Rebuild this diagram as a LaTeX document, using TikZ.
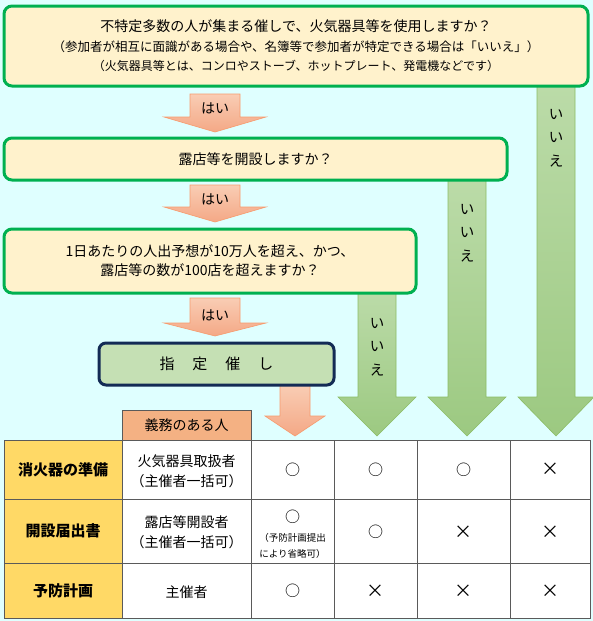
\documentclass[tikz,border=0pt]{standalone}
\usepackage{fontspec}
\setmainfont{Noto Sans CJK JP}
\usetikzlibrary{positioning}

\definecolor{bgcyan}{HTML}{DFFFFF}
\definecolor{qgreen}{HTML}{00B050}
\definecolor{qfill}{HTML}{FFF2CC}
\definecolor{navy}{HTML}{132B55}
\definecolor{evfill}{HTML}{C5E0B4}
\definecolor{yestop}{HTML}{F9CDB4}
\definecolor{yesbot}{HTML}{F4A886}
\definecolor{yesline}{HTML}{F79B6E}
\definecolor{notop}{HTML}{BBDBA8}
\definecolor{nobot}{HTML}{9CC981}
\definecolor{noline}{HTML}{8CBD66}
\definecolor{dutyfill}{HTML}{F4B183}
\definecolor{gold}{HTML}{FFD966}
\definecolor{gridgray}{HTML}{5A5A5A}

% block arrow: style, x, top, neck, tip, shaft half width, head half width
\newcommand{\blockarrow}[7]{%
  \path[#1] ({#2-#6},#3) -- ({#2+#6},#3) -- ({#2+#6},#4) -- ({#2+#7},#4)
    -- (#2,#5) -- ({#2-#7},#4) -- ({#2-#6},#4) -- cycle;}

\begin{document}
\begin{tikzpicture}[x=1pt, y=-1pt,
        every node/.style={align=center, inner sep=0pt},
        question/.style={draw=qgreen, line width=3pt, rounded corners=8pt, fill=qfill},
        event/.style={draw=navy, line width=3pt, rounded corners=7pt, fill=evfill},
        yesarrow/.style={draw=yesline, line width=0.6pt, top color=yestop, bottom color=yesbot},
        noarrow/.style={draw=noline, line width=0.6pt, top color=notop, bottom color=nobot},
        grid/.style={draw=gridgray, line width=0.8pt},
        big/.style={font=\fontsize{14}{19}\selectfont},
        tiny/.style={font=\fontsize{9.5}{16}\selectfont},
        sign/.style={font=\fontsize{15}{15}\selectfont},
        cross/.style={font=\fontsize{18}{18}\selectfont},
        notext/.style={font=\fontsize{14.5}{23.5}\selectfont}
    ]

    % background
    \fill[bgcyan] (0,0) rectangle (593,621);
    \useasboundingbox (0,0) rectangle (593,621);

    % "no" arrows
    \blockarrow{noarrow}{556}{86}{397}{436}{19}{38}
    \blockarrow{noarrow}{467}{180}{397}{436}{19}{39}
    \blockarrow{noarrow}{377}{293}{397}{436}{19}{39}

    % "yes" arrows
    \blockarrow{yesarrow}{215}{94}{117}{132}{25}{51}
    \blockarrow{yesarrow}{215}{185}{207}{222}{25}{51}
    \blockarrow{yesarrow}{215}{298}{323}{336}{25}{51}
    \blockarrow{yesarrow}{295}{385}{416}{436}{15}{30}

    % Nodes
    \node[question, minimum width=584pt, minimum height=80pt, font=\fontsize{12}{19.5}\selectfont] (q1) at (296,46)
        {{\fontsize{14}{19.5}\selectfont 不特定多数の人が集まる催しで、火気器具等を使用しますか？}\\
         {\fontsize{12.5}{19.5}\selectfont （参加者が相互に面識がある場合や、名簿等で参加者が特定できる場合は「いいえ」）}\\
         （火気器具等とは、コンロやストーブ、ホットプレート、発電機などです）};

    \node[question, big, minimum width=503pt, minimum height=42pt] (q2) at (255.5,159)
        {露店等を開設しますか？};

    \node[question, big, minimum width=412pt, minimum height=64pt] (q3) at (210,261)
        {1日あたりの人出予想が10万人を超え、かつ、\\
         露店等の数が100店を超えますか？};

    \node[event, font=\fontsize{15}{15}\selectfont, minimum width=235pt, minimum height=42pt] (event) at (216.5,364)
        {指\hspace{1.2em}定\hspace{1.2em}催\hspace{1.2em}し};

    % arrow labels
    \foreach \y [count=\i] in {108,199,315}
        \node[big] (yes\i) at (215,\y) {はい};
    \node[notext] (no1) at (556,138) {い\\い\\え};
    \node[notext] (no2) at (467,233) {い\\い\\え};
    \node[notext] (no3) at (377,347) {い\\い\\え};

    % table
    \fill[white] (122,440) rectangle (590,618);
    \fill[gold] (4,440) rectangle (122,618);
    \foreach \x in {122,251,334,417,510}
        \draw[grid] (\x,440) -- (\x,618);
    \foreach \y in {499,563}
        \draw[grid] (4,\y) -- (590,\y);
    \draw[grid] (4,440) rectangle (590,618);

    \node[draw=gridgray, line width=0.8pt, fill=dutyfill, big, minimum width=129pt, minimum height=30pt] (duty) at (186.5,425)
        {義務のある人};

    \node[font=\bfseries\fontsize{15}{15}\selectfont] (ext) at (63,469.5) {消火器の準備};
    \node[font=\bfseries\fontsize{15}{15}\selectfont] (open) at (63,531) {開設届出書};
    \node[font=\bfseries\fontsize{15}{15}\selectfont] (plan) at (63,590.5) {予防計画};

    \node[font=\fontsize{14}{20}\selectfont] (who1) at (186.5,471) {火気器具取扱者\\（主催者一括可）};
    \node[font=\fontsize{14}{20}\selectfont] (who2) at (186.5,532) {露店等開設者\\（主催者一括可）};
    \node[big] (who3) at (186.5,592) {主催者};

    \foreach \x in {292.5,375.5,463.5}
        \node[sign] (a\x) at (\x,469.5) {○};
    \node[cross] (a4) at (550,469.5) {×};
    \node[sign] (b1) at (292.5,517) {○};
    \node[tiny] (b1note) at (292.5,545.5) {（予防計画提出\\により省略可）};
    \node[sign] (b2) at (375.5,532) {○};
    \foreach \x in {463.5,550}
        \node[cross] (b\x) at (\x,532) {×};
    \node[sign] (c1) at (292.5,591) {○};
    \foreach \x in {375.5,463.5,550}
        \node[cross] (c\x) at (\x,591) {×};

\end{tikzpicture}
\end{document}
